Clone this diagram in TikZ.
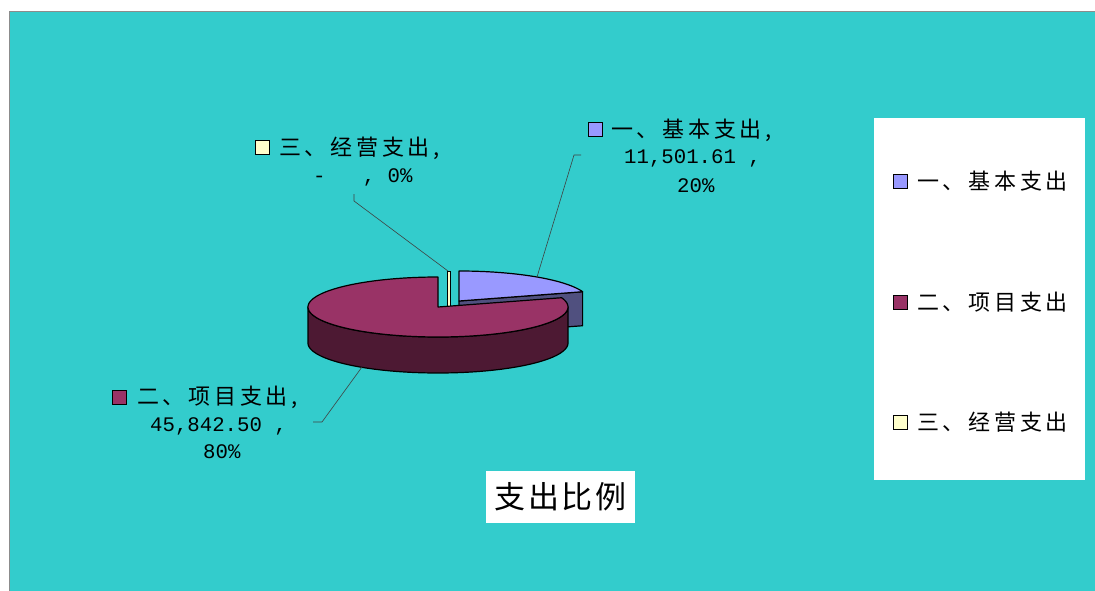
\documentclass[tikz,border=0pt]{standalone}
\usepackage{fontspec}
\newfontfamily\cjk[LetterSpace=17]{Noto Sans CJK SC}
\newfontfamily\cjkt[LetterSpace=8]{Noto Sans CJK SC}
\newfontfamily\mono{Liberation Mono}
\definecolor{bgteal}{HTML}{33CCCC}
\definecolor{bluetop}{HTML}{9999FF}
\definecolor{blueside}{HTML}{50507F}
\definecolor{redtop}{HTML}{993366}
\definecolor{redside}{HTML}{4D1933}
\definecolor{yel}{HTML}{FFFFCC}
\tikzset{
  lab/.style={font=\cjk\fontsize{22}{26}\selectfont, inner sep=0pt, anchor=west},
  num/.style={font=\mono\fontsize{20.7}{24}\selectfont, inner sep=0pt, anchor=west},
  swatch/.style={draw=black, line width=1pt, minimum size=14pt, inner sep=0pt},
  slice/.style={draw=black, line width=1.2pt, line join=round},
  leader/.style={draw=black!75, line width=0.6pt}
}
\begin{document}
\begin{tikzpicture}[x=1pt,y=-1pt]
\useasboundingbox (0,0) rectangle (1095,591);
\fill[white] (0,0) rectangle (1095,591);
\fill[bgteal] (9,12) rectangle (1095,591);
\draw[black!45, line width=1pt] (9,591) -- (9,12) -- (1095,12);

% blue slice (exploded)
\filldraw[slice, fill=blueside] (459,301)
  -- ({459+130*sin(72)},{301-30*cos(72)})
  -- ({459+130*sin(72)},{335-30*cos(72)})
  -- (459,335) -- cycle;
\filldraw[slice, fill=bluetop] (459,301)
  -- plot[domain=0:72,samples=40] ({459+130*sin(\x)},{301-30*cos(\x)}) -- cycle;
% yellow zero slice
\filldraw[draw=black, line width=0.8pt, fill=yel] (447.8,271) rectangle (450.4,307);
% red slice
\filldraw[slice, fill=redside]
  plot[domain=90:270,samples=90] ({438+130*sin(\x)},{307-30*cos(\x)})
  -- plot[domain=270:90,samples=90] ({438+130*sin(\x)},{343-30*cos(\x)}) -- cycle;
\filldraw[slice, fill=redtop] (438,307)
  -- plot[domain=72:360,samples=140] ({438+130*sin(\x)},{307-30*cos(\x)}) -- cycle;

% data labels
\node[swatch, fill=bluetop] (sqb) at (595,130) {};
\node[lab] (lb1) at (611,130) {一、基本支出,};
\node[num] (lb2) at (624,158) {11,501.61 ,};
\node[num] (lb3) at (677,186) {20\%};

\node[swatch, fill=yel] (sqy) at (262,148) {};
\node[lab] (ly1) at (279,148) {三、经营支出,};
\node[num] (ly2) at (313,177) {-~~~,~0\%};

\node[swatch, fill=redtop] (sqr) at (119.5,397) {};
\node[lab] (lr1) at (137,397) {二、项目支出,};
\node[num] (lr2) at (150,426) {45,842.50 ,};
\node[num] (lr3) at (203,452) {80\%};

% leaders
\coordinate (bA) at (581,155); \coordinate (bB) at (574,155); \coordinate (bP) at (537,277);
\coordinate (yA) at (354,194); \coordinate (yB) at (354,201); \coordinate (yP) at (448,271);
\coordinate (rA) at (313,422); \coordinate (rB) at (322,422); \coordinate (rP) at (362,367);
\draw[leader] (bA) -- (bB) -- (bP);
\draw[leader] (yA) -- (yB) -- (yP);
\draw[leader] (rA) -- (rB) -- (rP);

% legend
\node[fill=white, inner sep=0pt, minimum width=211pt, minimum height=362pt, anchor=north west] (legend) at (874,118) {};
\node[swatch, fill=bluetop] (g1) at (900,181) {};
\node[lab] (gt1) at (917,181) {一、基本支出};
\node[swatch, fill=redtop] (g2) at (900,302) {};
\node[lab] (gt2) at (917,302) {二、项目支出};
\node[swatch, fill=yel] (g3) at (900,422) {};
\node[lab] (gt3) at (917,422) {三、经营支出};

% title
\node[fill=white, inner sep=0pt, minimum width=149pt, minimum height=52pt, font=\cjkt\fontsize{31}{36}\selectfont] (title) at (560.5,497) {支出比例};
\end{tikzpicture}
\end{document}
